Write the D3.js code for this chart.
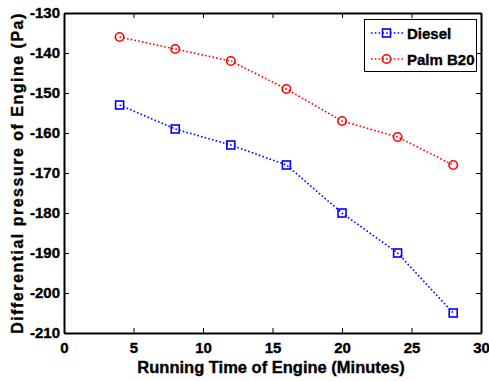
<!DOCTYPE html>
<html>
<head>
<meta charset="utf-8">
<script src="https://cdn.jsdelivr.net/npm/d3@7"></script>
<style>
  html, body { margin: 0; padding: 0; background: #fff; }
  svg { display: block; font-family: "Liberation Sans", Arial, sans-serif; font-weight: bold; }
  svg text { stroke: #000; stroke-width: 0.35px; }
</style>
</head>
<body>
<svg id="chart" width="489" height="381"></svg>
<script>
// Running time (minutes) and measured differential pressure (Pa)
const minutes = [4, 8, 12, 16, 20, 24, 28];
const diesel = [-153, -159, -163, -168, -180, -190, -205];
const palmB20 = [-136, -139, -142, -149, -157, -161, -168];
const xTicks = [0, 5, 10, 15, 20, 25, 30];
const yTicks = [-210, -200, -190, -180, -170, -160, -150, -140, -130];
const seriesNames = ["Diesel", "Palm B20"];

const svg = d3.select("#chart");
const margin = { left: 64, right: 8, top: 13, bottom: 48 };
const W = 489, H = 381;
const x = d3.scaleLinear().domain([0, 30]).range([margin.left, W - margin.right]);
const y = d3.scaleLinear().domain([-210, -130]).range([H - margin.bottom, margin.top]);

const series = [
  { name: seriesNames[0], values: diesel, color: "#0000ff", marker: "square" },
  { name: seriesNames[1], values: palmB20, color: "#ff0000", marker: "circle" }
];

// Axes with inward ticks on all four sides
const tick = 5;
const axB = svg.append("g").attr("transform", `translate(0,${y(-210)})`)
  .call(d3.axisBottom(x).tickValues(xTicks).tickSizeInner(-tick).tickSizeOuter(0).tickPadding(9));
const axT = svg.append("g").attr("transform", `translate(0,${y(-130)})`)
  .call(d3.axisTop(x).tickValues(xTicks).tickSizeInner(-tick).tickSizeOuter(0).tickFormat(""));
const axL = svg.append("g").attr("transform", `translate(${x(0)},0)`)
  .call(d3.axisLeft(y).tickValues(yTicks).tickSizeInner(-tick).tickSizeOuter(0).tickPadding(4));
const axR = svg.append("g").attr("transform", `translate(${x(30)},0)`)
  .call(d3.axisRight(y).tickValues(yTicks).tickSizeInner(-tick).tickSizeOuter(0).tickFormat(""));

[axB, axT, axL, axR].forEach(a => {
  a.select(".domain").attr("stroke", "#000").attr("stroke-width", 2);
  a.selectAll(".tick line").attr("stroke", "#000").attr("stroke-width", 1);
  a.selectAll("text").attr("font-size", 15).attr("font-weight", "bold")
    .attr("font-family", "Liberation Sans, Arial, sans-serif").attr("fill", "#000");
});
axL.selectAll(".tick text").text(d => d < 0 ? "-" + Math.abs(d) : d);

// Series: dotted lines with markers
const line = d3.line().x((d, i) => x(minutes[i])).y(d => y(d));
series.forEach(s => {
  svg.append("path").datum(s.values)
    .attr("d", line).attr("fill", "none")
    .attr("stroke", s.color).attr("stroke-width", 1.6)
    .attr("stroke-dasharray", "1.6,2.2");
  const g = svg.append("g");
  s.values.forEach((v, i) => drawMarker(g, s, x(minutes[i]), y(v)));
});

function drawMarker(g, s, cx, cy) {
  if (s.marker === "square") {
    g.append("rect").attr("x", cx - 4).attr("y", cy - 4).attr("width", 8).attr("height", 8)
      .attr("fill", "none").attr("stroke", s.color).attr("stroke-width", 1.6);
  } else {
    g.append("circle").attr("cx", cx).attr("cy", cy).attr("r", 4.2)
      .attr("fill", "none").attr("stroke", s.color).attr("stroke-width", 1.6);
  }
}

// Legend
const lg = svg.append("g");
lg.append("rect").attr("x", 364.5).attr("y", 19.5).attr("width", 112).attr("height", 52)
  .attr("fill", "#fff").attr("stroke", "#000").attr("stroke-width", 1);
series.forEach((s, i) => {
  const ly = 33 + i * 26;
  lg.append("line").attr("x1", 371).attr("x2", 403).attr("y1", ly).attr("y2", ly)
    .attr("stroke", s.color).attr("stroke-width", 1.6).attr("stroke-dasharray", "1.6,2.2");
  drawMarker(lg, s, 386.5, ly);
  lg.append("text").attr("x", 407).attr("y", ly + 5.5).attr("font-size", 15)
    .attr("fill", "#000").text(s.name);
});

// Axis titles
svg.append("text").attr("x", 271).attr("y", 373)
  .attr("text-anchor", "middle").attr("font-size", 16.5).attr("fill", "#000")
  .text("Running Time of Engine (Minutes)");
svg.append("text")
  .attr("transform", `translate(23,${(y(-130) + y(-210)) / 2}) rotate(-90)`)
  .attr("text-anchor", "middle").attr("font-size", 16).attr("letter-spacing", 1.5)
  .attr("fill", "#000")
  .text("Differential pressure of Engine (Pa)");
</script>
</body>
</html>
